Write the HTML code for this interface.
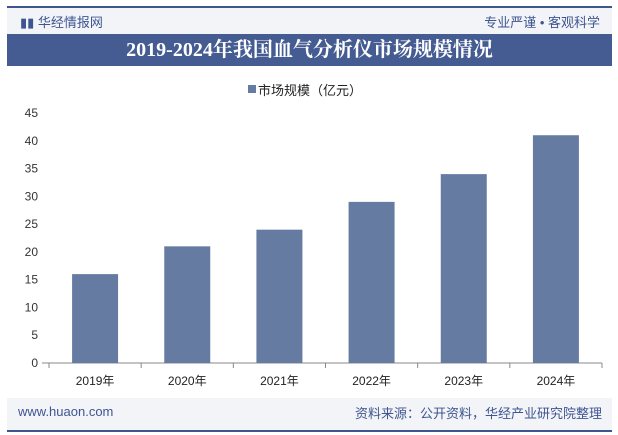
<!DOCTYPE html>
<html><head><meta charset="utf-8"><style>
body{margin:0;width:618px;height:435px;background:#fff;font-family:"Liberation Sans","Noto Sans CJK SC",sans-serif;position:relative;overflow:hidden}
.abs{position:absolute}
</style></head><body>
<div class="abs" style="left:7px;top:6px;width:605px;height:2px;background:#3f5590"></div>
<div class="abs" style="left:7px;top:8px;width:605px;height:26px;background:#f2f4f8"></div>
<div class="abs" style="left:20px;top:12px;font-size:13px;color:#3f5590">▮▮ 华经情报网</div>
<div class="abs" style="right:18px;top:12px;font-size:13px;color:#3f5590">专业严谨 • 客观科学</div>
<div class="abs" style="left:7px;top:34px;width:605px;height:32px;background:#445c92;color:#fff;font:bold 20px 'Liberation Serif','Noto Serif CJK SC',serif;text-align:center;line-height:32px">2019-2024年我国血气分析仪市场规模情况</div>
<svg class="abs" style="left:0;top:0" width="618" height="435" id="chart"></svg>
<div class="abs" style="left:7px;top:398px;width:605px;height:32px;background:#f2f4f8"></div>
<div class="abs" style="left:18px;top:404px;font-size:13px;color:#3f5590">www.huaon.com</div>
<div class="abs" style="right:16px;top:403px;font-size:13px;color:#3f5590">资料来源：公开资料，华经产业研究院整理</div>
<div class="abs" style="left:7px;top:430px;width:605px;height:2px;background:#3f5590"></div>
<script>
const categories=["2019年","2020年","2021年","2022年","2023年","2024年"];
const values=[16,21,24,29,34,41];
const ticks=[0,5,10,15,20,25,30,35,40,45];
const svg=document.getElementById('chart');
const NS='http://www.w3.org/2000/svg';
const x0=49,x1=602,yb=363,yt=113,ymax=45;
const y=v=>yb-(v/ymax)*(yb-yt);
const bw=(x1-x0)/categories.length;
function mk(t,a){const e=document.createElementNS(NS,t);for(const k in a)e.setAttribute(k,a[k]);svg.appendChild(e);return e;}
ticks.forEach(t=>{const e=mk('text',{x:38,y:y(t)+4,'text-anchor':'end','font-size':12,fill:'#333'});e.textContent=t;

});
const ax=mk('line',{x1:42,x2:x1,y1:yb,y2:yb,stroke:'#888'});


for(let i=0;i<=categories.length;i++){const l=mk('line',{x1:x0+i*bw,x2:x0+i*bw,y1:yb,y2:yb+5,stroke:'#888'});

}
categories.forEach((c,i)=>{const cx=x0+bw*(i+0.5);
const r=mk('rect',{x:cx-23,y:y(values[i]),width:46,height:yb-y(values[i]),fill:'#667ba2'});


const t=mk('text',{x:cx,y:yb+22,'text-anchor':'middle','font-size':12,fill:'#222'});t.textContent=c;

});
const lg=mk('rect',{x:248,y:85,width:8,height:8,fill:'#667ba2'});


const lt=mk('text',{x:258,y:95,'font-size':13,fill:'#222'});lt.textContent='市场规模（亿元）';


</script>
</body></html>
